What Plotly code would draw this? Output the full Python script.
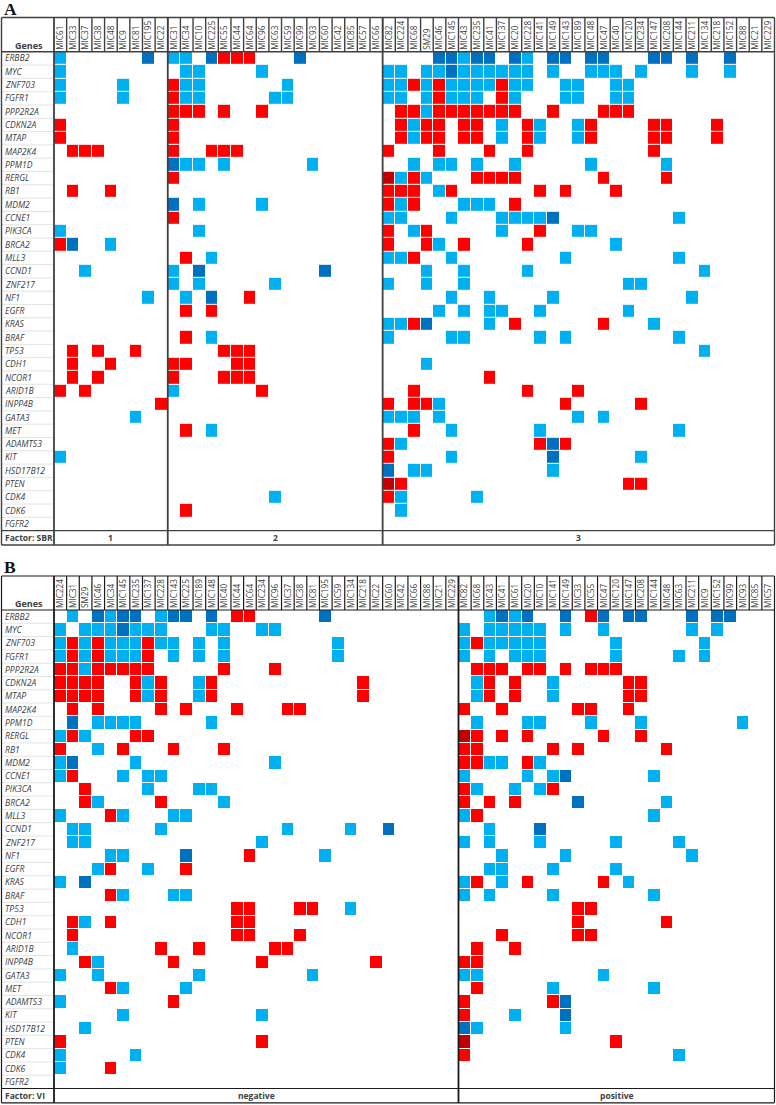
import plotly.graph_objects as go

W, H = 776, 1105

# ---- data ----
genes = ["ERBB2", "MYC", "ZNF703", "FGFR1", "PPP2R2A", "CDKN2A", "MTAP", "MAP2K4", "PPM1D", "RERGL", "RB1", "MDM2",
         "CCNE1", "PIK3CA", "BRCA2", "MLL3", "CCND1", "ZNF217", "NF1", "EGFR", "KRAS", "BRAF", "TP53", "CDH1",
         "NCOR1", "ARID1B", "INPP4B", "GATA3", "MET", "ADAMTS3", "KIT", "HSD17B12", "PTEN", "CDK4", "CDK6", "FGFR2"]

sbr_1 = ["MIC61", "MIC33", "MIC37", "MIC38", "MIC48", "MIC9", "MIC81", "MIC195", "MIC22"]
sbr_2 = ["MIC31", "MIC34", "MIC10", "MIC225", "MIC55", "MIC44", "MIC64", "MIC96", "MIC63", "MIC59", "MIC99", "MIC93",
         "MIC60", "MIC42", "MIC85", "MIC57", "MIC66"]
sbr_3 = ["MIC82", "MIC224", "MIC68", "SM29", "MIC46", "MIC145", "MIC43", "MIC235", "MIC41", "MIC137", "MIC20", "MIC228",
         "MIC141", "MIC149", "MIC143", "MIC189", "MIC148", "MIC47", "MIC40", "MIC120", "MIC234", "MIC147", "MIC208",
         "MIC144", "MIC211", "MIC134", "MIC218", "MIC152", "MIC88", "MIC21", "MIC229"]
vi_negative = ["MIC224", "MIC31", "SM29", "MIC46", "MIC34", "MIC145", "MIC235", "MIC137", "MIC228", "MIC143", "MIC225",
               "MIC189", "MIC148", "MIC40", "MIC44", "MIC64", "MIC234", "MIC96", "MIC37", "MIC38", "MIC81", "MIC195",
               "MIC59", "MIC134", "MIC218", "MIC22", "MIC60", "MIC42", "MIC66", "MIC88", "MIC21", "MIC229"]
vi_positive = ["MIC82", "MIC68", "MIC43", "MIC41", "MIC61", "MIC20", "MIC10", "MIC141", "MIC149", "MIC33", "MIC55",
               "MIC47", "MIC120", "MIC147", "MIC208", "MIC144", "MIC48", "MIC63", "MIC211", "MIC9", "MIC152", "MIC99",
               "MIC93", "MIC85", "MIC57"]

# b = light blue, B = dark blue, r = red, R = dark red; one line per gene, same order as genes
calls = [
 "61b 195B 31b 34b 225B 55r 44r 64r 99B 46B 145B 43b 235B 41B 20B 228b 149B 143B 148B 47B 147B 208B 211B 152B",
 "61b 34b 10b 96b 82b 224b SM29b 46b 145B 43b 235b 41b 137b 20b 228b 149b 148b 47b 40b 234b 211b 152b",
 "61b 9b 31r 34b 10b 59b 82b 224b 68r SM29b 46r 145b 43b 235b 41b 137r 20b 228b 143b 189b 40b 120b",
 "61b 9b 31r 34b 10b 63b 59b 82b 224b SM29b 46r 145b 43b 235b 137r 20b 143b 189b 40b 120b",
 "31r 34r 10r 55r 96r 224r 68r SM29b 46r 145r 43r 235r 41r 137r 20r 149r 47r 40r 120r",
 "61r 31r 224r 68b SM29r 46r 43r 235r 137b 228r 141b 189b 148r 147r 208r 218r",
 "61r 31r 224r 68b SM29r 46r 43r 235r 137b 228r 141b 189b 148r 147r 208r 218r",
 "33r 37r 38r 31r 225r 55r 44r 82r 46r 41r 228r 147r",
 "31B 34b 10b 55b 93b 68b 46b 145b 235b 20b 148b 208b",
 "31r 82R 224b 68r SM29b 235r 41r 137r 20r 47r 208r",
 "33r 48r 82r 224r 68r 46b 145r 141r 143r 40r",
 "31B 10b 96b 82r 224b 68r 43b 235b 41b 20r",
 "31r 82b 224b 145b 137b 20b 228b 141b 149B 144b",
 "61b 10b 82r 68b SM29r 137b 141r 189b 148b",
 "61r 33B 48b 82r SM29r 46b 43r 228r 40b",
 "34r 225b 82b 224b 68r 145b 143b 144b",
 "37b 31b 10B 60B SM29b 43b 228b 134b",
 "31b 10b 63b 82b SM29b 43b 120b 234b",
 "195b 34b 225B 64r 145b 41b 149b 211b",
 "34r 225r 46b 43b 41b 137b 141b 120b",
 "82b 224b 68r SM29B 41b 20r 47r 147b",
 "34r 225b 82b 145b 43b 141b 143b 144b",
 "33r 38r 81r 55r 44r 64r 134b",
 "33r 48r 31r 34r 44r 64r SM29b",
 "33r 38r 31r 55r 44r 64r 41r",
 "61r 37r 31b 96r 68r 228r 189r",
 "22r 82r 68r SM29r 46b 143r 234r",
 "81b 82b 224b 68b 46b 189b 47b",
 "34r 225b 68r 145b 141b 144b",
 "82r 224b 141r 149B 143r",
 "61b 82r 145b 149B 234b",
 "82B 68b SM29b 149b",
 "82R 224r 120r 234r",
 "63b 82r 224b 235b",
 "34r 224b",
 "",
]

# ---- styling / layout ----
CODE = {"b": 1, "B": 2, "r": 3, "R": 4}
COLORSCALE = [[0, "#00B0F0"], [0.25, "#00B0F0"], [0.25, "#0070C0"], [0.5, "#0070C0"],
              [0.5, "#FF0000"], [0.75, "#FF0000"], [0.75, "#C00000"], [1, "#C00000"]]
LABEL_FONT = "Open Sans"
TEXT = "#404040"
LEFT, GRID_L, RIGHT = 1.5, 54, 774.5


def sample_name(token):
    base = token[:-1]
    return base if base.startswith("SM") else "MIC" + base


lookup = [{sample_name(t): CODE[t[-1]] for t in line.split()} for line in calls]


def px(x):
    return x / W


def py(y):
    return 1 - y / H


panels = [
    dict(tag="A", axis="", groups=[("1", sbr_1), ("2", sbr_2), ("3", sbr_3)], factor="Factor: SBR",
         tag_y=9.5, head=17.5, top=51.8, bottom=530.6, end=545, line="#404040", name_w=1.4),
    dict(tag="B", axis="2", groups=[("negative", vi_negative), ("positive", vi_positive)], factor="Factor: VI",
         tag_y=566.5, head=576, top=610, bottom=1088.5, end=1102.8, line="#1a1a1a", name_w=1.2),
]

fig = go.Figure()
shapes, annotations = [], []

for p in panels:
    columns = [c for _, g in p["groups"] for c in g]
    z = [[row.get(c) for c in columns] for row in lookup]
    xa, ya = "x" + p["axis"], "y" + p["axis"]
    fig.add_trace(go.Heatmap(z=z, x=columns, y=genes, xaxis=xa, yaxis=ya, xgap=1, ygap=1, zmin=1, zmax=5,
                             colorscale=COLORSCALE, showscale=False, hoverongaps=False))
    fig.update_layout(**{
        "xaxis" + p["axis"]: dict(domain=[px(GRID_L), px(RIGHT)], anchor=ya, side="top", type="category",
                                  categoryorder="array", categoryarray=columns, range=[-0.5, len(columns) - 0.5],
                                  tickmode="array", tickvals=columns, ticktext=columns, tickangle=-90, ticks="",
                                  ticklabelstandoff=1, showgrid=False, zeroline=False, showline=False,
                                  tickfont=dict(family=LABEL_FONT, size=8.2, color=TEXT)),
        "yaxis" + p["axis"]: dict(domain=[py(p["bottom"]), py(p["top"])], anchor=xa, type="category",
                                  categoryorder="array", categoryarray=genes, range=[len(genes) - 0.5, -0.5],
                                  showticklabels=False, ticks="", showgrid=False, zeroline=False, showline=False),
    })

    def hline(y, x0=LEFT, x1=RIGHT, color=p["line"], width=p["name_w"]):
        shapes.append(dict(type="line", xref="paper", yref="paper", x0=px(x0), x1=px(x1), y0=py(y), y1=py(y),
                           line=dict(color=color, width=width)))

    def vline(x, y0, y1, color=p["line"], width=p["name_w"]):
        shapes.append(dict(type="line", xref="paper", yref="paper", x0=px(x), x1=px(x), y0=py(y0), y1=py(y1),
                           line=dict(color=color, width=width)))

    # pale rules between the gene names
    for i in range(1, len(genes)):
        y = p["top"] + (p["bottom"] - p["top"]) * i / len(genes)
        hline(y, LEFT, GRID_L, "#dddddd", 0.8)

    # header cell dividers
    for i in range(1, len(columns)):
        vline(GRID_L + (RIGHT - GRID_L) * i / len(columns), p["head"], p["top"])

    # frame
    hline(p["head"]); hline(p["top"]); hline(p["bottom"]); hline(p["end"])
    vline(LEFT, p["head"], p["end"]); vline(RIGHT, p["head"], p["end"]); vline(GRID_L, p["head"], p["end"], width=1.8)

    # factor group dividers and labels
    start = 0
    for label, g in p["groups"]:
        if start:
            vline(GRID_L + (RIGHT - GRID_L) * start / len(columns), p["head"], p["end"], width=1.8)
        annotations.append(dict(xref=xa, yref="paper", x=start + (len(g) - 1) / 2, y=py((p["bottom"] + p["end"]) / 2),
                                text="<b>%s</b>" % label, showarrow=False, xanchor="center", yanchor="middle",
                                font=dict(family=LABEL_FONT, size=8.5, color=TEXT)))
        start += len(g)

    for g in genes:
        annotations.append(dict(xref="paper", yref=ya, x=px(2.5), y=g, text=g, xanchor="left", yanchor="middle",
                                showarrow=False,
                                font=dict(family=LABEL_FONT, size=8.6, color=TEXT, style="italic")))
    annotations.append(dict(xref="paper", yref="paper", x=px(28.5), y=py(p["top"] - 6), text="<b>Genes</b>",
                            xanchor="center", yanchor="middle", showarrow=False,
                            font=dict(family=LABEL_FONT, size=9, color=TEXT)))
    annotations.append(dict(xref="paper", yref="paper", x=px(3), y=py((p["bottom"] + p["end"]) / 2),
                            text="<b>%s</b>" % p["factor"], xanchor="left", yanchor="middle", showarrow=False,
                            font=dict(family=LABEL_FONT, size=8.5, color=TEXT)))
    annotations.append(dict(xref="paper", yref="paper", x=px(1.5), y=py(p["tag_y"]), text="<b>%s</b>" % p["tag"],
                            xanchor="left", yanchor="middle", showarrow=False,
                            font=dict(family="Liberation Serif", size=17.5, color="#111111")))

fig.update_layout(width=W, height=H, margin=dict(l=0, r=0, t=0, b=0), paper_bgcolor="white", plot_bgcolor="white",
                  shapes=shapes, annotations=annotations, showlegend=False)
fig.write_html("out.html", post_script="document.body.style.margin='0';", config={"displayModeBar": False})
